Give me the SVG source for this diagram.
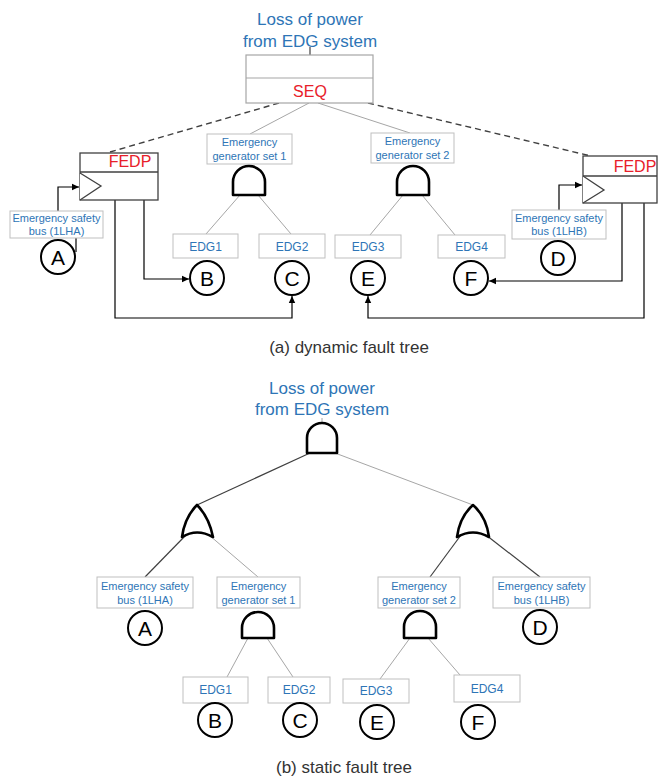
<svg xmlns="http://www.w3.org/2000/svg" width="658" height="777" viewBox="0 0 658 777">
<defs>
<marker id="arr" markerWidth="8" markerHeight="8" refX="7" refY="4" orient="auto" markerUnits="userSpaceOnUse">
<path d="M0,0.8 L7,4 L0,7.2 Z" fill="#000"/>
</marker>
<style>
.t{font-family:"Liberation Sans",Arial,sans-serif;text-anchor:middle}
.blue{fill:#2E75B6}
.title{font-size:17px}
.lbl{font-size:11px}
.edg{font-size:12px}
.red{fill:#E8202A;font-size:16px}
.cap{fill:#333;font-size:17px}
.letter{fill:#000;font-size:21px}
.box{fill:#fff;stroke:#BFBFBF;stroke-width:1}
.seq{fill:#fff;stroke:#A6A6A6;stroke-width:1.2}
.fedp{fill:#fff;stroke:#404040;stroke-width:1.3}
.gate{fill:#fff;stroke:#000;stroke-width:2.6;stroke-linejoin:round}
.ev{fill:#fff;stroke:#000;stroke-width:2}
.lg{stroke:#A6A6A6;stroke-width:1;fill:none}
.ld{stroke:#404040;stroke-width:1.2;fill:none}
.dash{stroke:#404040;stroke-width:1.4;stroke-dasharray:6,4;fill:none}
.flow{stroke:#000;stroke-width:1.2;fill:none}
</style>
</defs>
<rect width="658" height="777" fill="#fff"/>

<!-- ===== (a) dynamic fault tree ===== -->
<g id="connectors-a">
<line class="ld" x1="310" y1="47" x2="310" y2="55"/>
<line class="dash" x1="279" y1="103" x2="110" y2="152"/>
<line class="dash" x1="368" y1="103" x2="591" y2="156"/>
<line class="lg" x1="309" y1="103" x2="250" y2="134"/>
<line class="lg" x1="318" y1="103" x2="410" y2="133"/>
<line class="lg" x1="240" y1="195" x2="206" y2="234"/>
<line class="lg" x1="258" y1="195" x2="291" y2="234"/>
<line class="lg" x1="403" y1="195" x2="370" y2="235"/>
<line class="lg" x1="422" y1="195" x2="455" y2="235"/>
<line class="flow" x1="76" y1="238" x2="76" y2="252"/>
<polyline class="flow" points="58,211 58,187 79,187" marker-end="url(#arr)"/>
<polyline class="flow" points="559,210 559,185 582,185" marker-end="url(#arr)"/>
<polyline class="flow" points="144,200 144,279 189,279" marker-end="url(#arr)"/>
<polyline class="flow" points="115,200 115,318 292,318 292,296" marker-end="url(#arr)"/>
<polyline class="flow" points="622,203 622,281 489,281" marker-end="url(#arr)"/>
<polyline class="flow" points="644,203 644,318 368,318 368,296" marker-end="url(#arr)"/>
</g>

<g id="top-a">
<text class="t blue title" x="310" y="25">Loss of power</text>
<text class="t blue title" x="310" y="47">from EDG system</text>
</g>
<g id="seq-a">
<rect class="seq" x="246" y="55" width="127" height="48"/>
<line class="seq" x1="246" y1="78" x2="373" y2="78"/>
<text class="t red" x="310" y="97">SEQ</text>
</g>

<g id="fedp-left">
<rect class="fedp" x="80" y="153" width="78" height="47"/>
<line class="fedp" x1="80" y1="172" x2="158" y2="172"/>
<polyline class="fedp" points="80,173 101,186 80,200"/>
<text class="t red" x="130" y="167">FEDP</text>
</g>
<g id="fedp-right">
<rect class="fedp" x="583" y="156" width="74" height="47"/>
<line class="fedp" x1="583" y1="176" x2="657" y2="176"/>
<polyline class="fedp" points="583,176 604,190 583,203"/>
<text class="t red" x="635" y="172">FEDP</text>
</g>

<g id="set1-a">
<rect class="box" x="207" y="134" width="85" height="30"/>
<text class="t blue lbl" x="249.5" y="146">Emergency</text>
<text class="t blue lbl" x="249.5" y="160">generator set 1</text>
<path class="gate" d="M233,195 L233,182 A16,16 0 0 1 265,182 L265,195 Z"/>
</g>
<g id="set2-a">
<rect class="box" x="371" y="133" width="83" height="30"/>
<text class="t blue lbl" x="412.5" y="145">Emergency</text>
<text class="t blue lbl" x="412.5" y="159">generator set 2</text>
<path class="gate" d="M397,195 L397,182 A16,16 0 0 1 429,182 L429,195 Z"/>
</g>

<g id="busA-a">
<rect class="box" x="10" y="211" width="93" height="27"/>
<text class="t blue lbl" x="56.5" y="222">Emergency safety</text>
<text class="t blue lbl" x="56.5" y="235">bus (1LHA)</text>
<circle class="ev" cx="58" cy="257" r="17"/>
<text class="t letter" x="58" y="264.5">A</text>
</g>
<g id="busD-a">
<rect class="box" x="512" y="210" width="94" height="29"/>
<text class="t blue lbl" x="559" y="222">Emergency safety</text>
<text class="t blue lbl" x="559" y="235">bus (1LHB)</text>
<circle class="ev" cx="558" cy="258" r="17"/>
<text class="t letter" x="558" y="265.5">D</text>
</g>
<g id="edg1-a">
<rect class="box" x="173" y="234" width="65" height="24"/>
<text class="t blue edg" x="205.5" y="250.5">EDG1</text>
<circle class="ev" cx="207" cy="278" r="17"/>
<text class="t letter" x="207" y="285.5">B</text>
</g>
<g id="edg2-a">
<rect class="box" x="259" y="234" width="66" height="24"/>
<text class="t blue edg" x="292" y="250.5">EDG2</text>
<circle class="ev" cx="292" cy="278" r="17"/>
<text class="t letter" x="292" y="285.5">C</text>
</g>
<g id="edg3-a">
<rect class="box" x="335" y="235" width="66" height="23"/>
<text class="t blue edg" x="368" y="251">EDG3</text>
<circle class="ev" cx="368" cy="278" r="17"/>
<text class="t letter" x="368" y="285.5">E</text>
</g>
<g id="edg4-a">
<rect class="box" x="438" y="235" width="67" height="23"/>
<text class="t blue edg" x="471.5" y="251">EDG4</text>
<circle class="ev" cx="471" cy="278" r="17"/>
<text class="t letter" x="471" y="285.5">F</text>
</g>
<text class="t cap" x="349" y="353">(a) dynamic fault tree</text>

<!-- ===== (b) static fault tree ===== -->
<g id="connectors-b">
<line class="lg" x1="322" y1="418" x2="322" y2="423"/>
<line class="ld" x1="310" y1="453" x2="197" y2="505"/>
<line class="lg" x1="335" y1="453" x2="473" y2="505"/>
<line class="ld" x1="186" y1="535" x2="145" y2="577"/>
<line class="lg" x1="209" y1="535" x2="258" y2="577"/>
<line class="ld" x1="461" y1="535" x2="430" y2="577"/>
<line class="ld" x1="486" y1="535" x2="540" y2="577"/>
<line class="lg" x1="248" y1="638" x2="227" y2="677"/>
<line class="lg" x1="267" y1="638" x2="293" y2="677"/>
<line class="lg" x1="410" y1="638" x2="380" y2="679"/>
<line class="lg" x1="428" y1="638" x2="460" y2="675"/>
</g>
<g id="top-b">
<text class="t blue title" x="322" y="394">Loss of power</text>
<text class="t blue title" x="322" y="415">from EDG system</text>
<path class="gate" d="M307,453 L307,438 A15,15 0 0 1 337,438 L337,453 Z"/>
</g>
<g id="or-left-b">
<path class="gate" d="M182,537 C184,522 190,512 197,505 C204,512 210,522 213,537 Q197,528 182,537 Z"/>
</g>
<g id="or-right-b">
<path class="gate" d="M457,537 C459,522 465,512 473,505 C481,512 487,522 489,537 Q473,528 457,537 Z"/>
</g>
<g id="busA-b">
<rect class="box" x="97" y="577" width="96" height="31"/>
<text class="t blue lbl" x="145" y="590">Emergency safety</text>
<text class="t blue lbl" x="145" y="604">bus (1LHA)</text>
<circle class="ev" cx="145" cy="628" r="17"/>
<text class="t letter" x="145" y="635.5">A</text>
</g>
<g id="set1-b">
<rect class="box" x="217" y="577" width="83" height="31"/>
<text class="t blue lbl" x="258.5" y="590">Emergency</text>
<text class="t blue lbl" x="258.5" y="604">generator set 1</text>
<path class="gate" d="M242,638 L242,628 A16,16 0 0 1 274,628 L274,638 Z"/>
</g>
<g id="set2-b">
<rect class="box" x="378" y="577" width="82" height="31"/>
<text class="t blue lbl" x="419" y="590">Emergency</text>
<text class="t blue lbl" x="419" y="604">generator set 2</text>
<path class="gate" d="M404,638 L404,627 A16,16 0 0 1 436,627 L436,638 Z"/>
</g>
<g id="busD-b">
<rect class="box" x="493" y="577" width="97" height="31"/>
<text class="t blue lbl" x="541.5" y="590">Emergency safety</text>
<text class="t blue lbl" x="541.5" y="604">bus (1LHB)</text>
<circle class="ev" cx="540" cy="627" r="17"/>
<text class="t letter" x="540" y="634.5">D</text>
</g>
<g id="edg1-b">
<rect class="box" x="183" y="677" width="65" height="26"/>
<text class="t blue edg" x="215.5" y="694">EDG1</text>
<circle class="ev" cx="215" cy="720" r="17"/>
<text class="t letter" x="215" y="727.5">B</text>
</g>
<g id="edg2-b">
<rect class="box" x="268" y="677" width="62" height="26"/>
<text class="t blue edg" x="299" y="694">EDG2</text>
<circle class="ev" cx="300" cy="720" r="17"/>
<text class="t letter" x="300" y="727.5">C</text>
</g>
<g id="edg3-b">
<rect class="box" x="343" y="679" width="66" height="24"/>
<text class="t blue edg" x="376" y="695">EDG3</text>
<circle class="ev" cx="377" cy="722" r="17"/>
<text class="t letter" x="377" y="729.5">E</text>
</g>
<g id="edg4-b">
<rect class="box" x="454" y="675" width="66" height="27"/>
<text class="t blue edg" x="487" y="693">EDG4</text>
<circle class="ev" cx="478" cy="722" r="17"/>
<text class="t letter" x="478" y="729.5">F</text>
</g>
<text class="t cap" x="344" y="773">(b) static fault tree</text>
</svg>
